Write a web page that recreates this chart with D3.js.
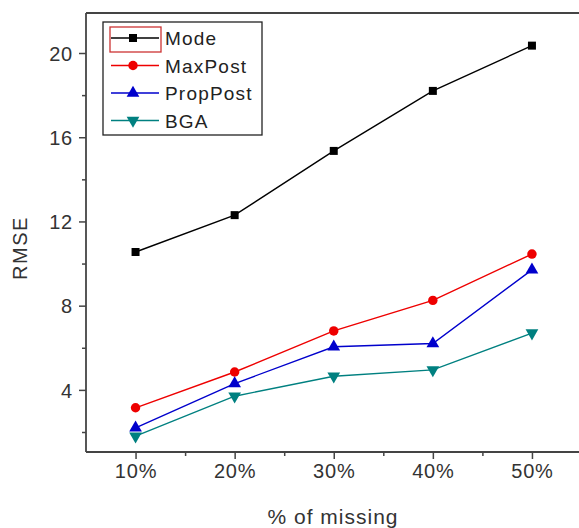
<!DOCTYPE html>
<head>
  <meta charset="utf-8">
  <script src="https://d3js.org/d3.v7.min.js"></script>
  <style>
    body { margin: 0; background: #fff; }
    text { font-family: Arial, 'Liberation Sans', sans-serif; fill: #333; }
  </style>
</head>
<body>
<div id="chart"></div>
<script>

// data
const missing = [10, 20, 30, 40, 50];
const mode     = [10.55, 12.3, 15.35, 18.2, 20.35];
const maxPost  = [3.15, 4.85, 6.8, 8.25, 10.45];
const propPost = [2.2, 4.3, 6.05, 6.2, 9.7];
const bga      = [1.8, 3.7, 4.65, 4.95, 6.7];
const yTicks = [4, 8, 12, 16, 20];
const yMinor = [2, 6, 10, 14, 18];
const xMinor = [15, 25, 35, 45];

const series = [
  {name: "Mode", values: mode, color: "#000000", shape: "square"},
  {name: "MaxPost", values: maxPost, color: "#ee0000", shape: "circle"},
  {name: "PropPost", values: propPost, color: "#0000cc", shape: "triUp"},
  {name: "BGA", values: bga, color: "#008080", shape: "triDown"}
];

const W = 579, H = 528;
const plotL = 86, plotR = 581.5, plotT = 13, plotB = 452;

const svg = d3.select("#chart").append("svg")
    .attr("width", W).attr("height", H);

const x = d3.scaleLinear().domain([5, 55]).range([plotL, plotR]);
const y = d3.scaleLinear().domain([1.05, 21.9]).range([plotB, plotT]);

// frame: top line, left and bottom axes
svg.append("line").attr("x1", plotL).attr("x2", W).attr("y1", plotT).attr("y2", plotT)
    .attr("stroke", "#444").attr("stroke-width", 1.8);

const yAxis = svg.append("g").attr("transform", `translate(${plotL},0)`)
    .call(d3.axisLeft(y).tickValues(yTicks).tickSize(7).tickPadding(6));
const xAxis = svg.append("g").attr("transform", `translate(0,${plotB})`)
    .call(d3.axisBottom(x).tickValues(missing).tickSize(7).tickPadding(5)
      .tickFormat(d => d + "%"));

[yAxis, xAxis].forEach(g => {
  g.attr("font-size", null).attr("font-family", null);
  g.select(".domain").attr("stroke", "#444").attr("stroke-width", 1.8);
  g.selectAll(".tick line").attr("stroke", "#444").attr("stroke-width", 1.5);
  g.selectAll(".tick text").style("font-size", "20px").style("letter-spacing", "0.8px")
    .style("fill", "#333");
});
yAxis.selectAll(".tick text").attr("dy", "0.36em");
yAxis.select(".domain").attr("d", `M0,${plotB}V${plotT}`);
xAxis.select(".domain").attr("d", `M${plotL},0H${W}`);

// minor ticks
svg.append("g").attr("transform", `translate(${plotL},0)`)
    .call(d3.axisLeft(y).tickValues(yMinor).tickSize(4).tickFormat(""))
    .call(g => g.select(".domain").remove())
    .selectAll("line").attr("stroke", "#444").attr("stroke-width", 1.5);
svg.append("g").attr("transform", `translate(0,${plotB})`)
    .call(d3.axisBottom(x).tickValues(xMinor).tickSize(4).tickFormat(""))
    .call(g => g.select(".domain").remove())
    .selectAll("line").attr("stroke", "#444").attr("stroke-width", 1.5);

// axis titles
svg.append("text")
    .attr("transform", "translate(27,248) rotate(-90)")
    .attr("text-anchor", "middle")
    .style("font-size", "20px").style("letter-spacing", "1.5px")
    .text("RMSE");
svg.append("text")
    .attr("x", 333).attr("y", 524).attr("text-anchor", "middle")
    .style("font-size", "21px").style("letter-spacing", "1px")
    .text("% of missing");

// markers
const symbolFor = {
  square: d3.symbol().type(d3.symbolSquare).size(64),
  circle: d3.symbol().type(d3.symbolCircle).size(70),
  triUp: d3.symbol().type(d3.symbolTriangle).size(70),
  triDown: d3.symbol().type(d3.symbolTriangle).size(70)
};
function drawMarker(g, s, cx, cy) {
  g.append("path").attr("d", symbolFor[s.shape]())
    .attr("transform", `translate(${cx},${cy})` + (s.shape === "triDown" ? " rotate(180)" : ""))
    .attr("fill", s.color);
}

const line = d3.line().x((d, i) => x(missing[i])).y(d => y(d));

series.forEach(s => {
  svg.append("path").datum(s.values).attr("d", line)
    .attr("fill", "none").attr("stroke", s.color).attr("stroke-width", 1.4);
  s.values.forEach((v, i) => drawMarker(svg, s, x(missing[i]), y(v)));
});

// legend
const lg = svg.append("g");
lg.append("rect").attr("x", 103).attr("y", 22).attr("width", 159).attr("height", 113)
    .attr("fill", "white").attr("stroke", "#222").attr("stroke-width", 1.3);
lg.append("rect").attr("x", 110).attr("y", 27).attr("width", 51).attr("height", 25)
    .attr("fill", "none").attr("stroke", "#cc3333").attr("stroke-width", 1.3);
series.forEach((s, i) => {
  const ly = 38 + i * 27.5;
  lg.append("line").attr("x1", 111).attr("x2", 159).attr("y1", ly).attr("y2", ly)
    .attr("stroke", s.color).attr("stroke-width", 1.4);
  drawMarker(lg, s, 133, ly);
  lg.append("text").attr("x", 165).attr("y", ly + 7)
    .style("font-size", "19px").style("letter-spacing", "1.2px").style("fill", "#222")
    .text(s.name);
});

</script>
</body>
